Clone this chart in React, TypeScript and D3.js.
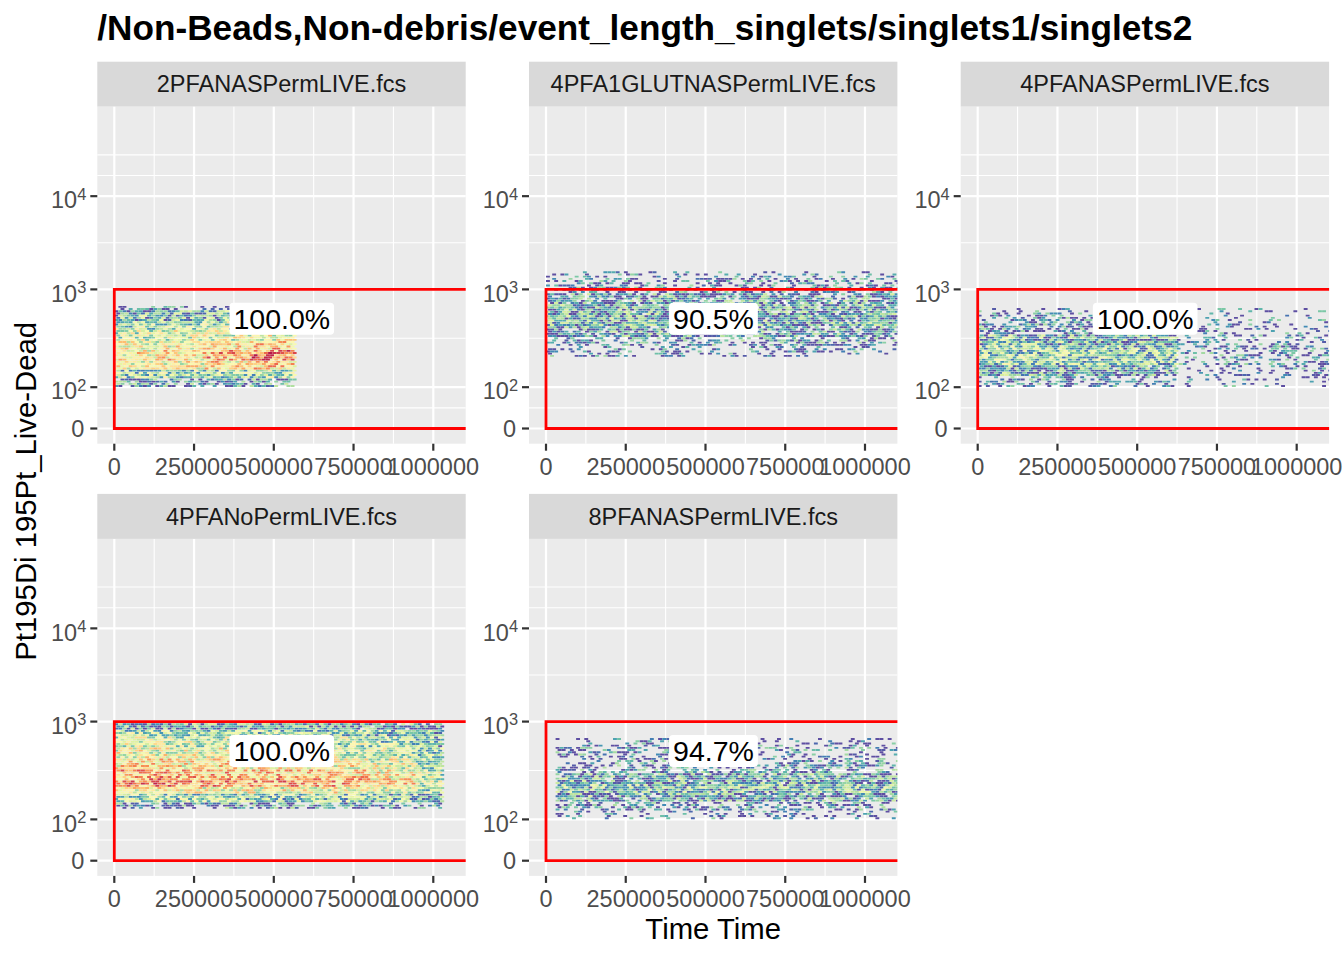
import React, { useMemo } from "react";
import * as d3 from "d3";

// ---------- text ----------
const plotTitle = "/Non-Beads,Non-debris/event_length_singlets/singlets1/singlets2";
const xAxisTitle = "Time Time";
const yAxisTitle = "Pt195Di 195Pt_Live-Dead";
const panelNames = [
  "2PFANASPermLIVE.fcs",
  "4PFA1GLUTNASPermLIVE.fcs",
  "4PFANASPermLIVE.fcs",
  "4PFANoPermLIVE.fcs",
  "8PFANASPermLIVE.fcs",
];
const gatePercents = ["100.0%", "90.5%", "100.0%", "100.0%", "94.7%"];

// ---------- axes ----------
const xTicks = [0, 250000, 500000, 750000, 1000000];
const xLimits = [-53300, 1101600];
const yBreaks = [0, 100, 1000, 10000];
const yBreakBase = ["0", "10", "10", "10"];
const yBreakExp = ["", "2", "3", "4"];
// biexponential-transformed position of each break (as drawn)
const yBreakUnits = [0, 0.4223, 1.4223, 2.3753];
const yLimitsUnits = [-0.1554, 3.29];

// ---------- gate ----------
const gateX = [0, Infinity];
const gateY = [0, 1000];
const gateLabelAt = [525000, 500];

// ---------- event density (rows bottom -> top, on the shared 0..1 fill scale) ----------
const p1X = [0, 140000, 280000, 420000, 566000];
const p1Y = [100, 125, 150, 190, 240, 300, 380, 480, 600, 690];
const p1D = [
  [0.12, 0.12, 0.11, 0.13],
  [0.3, 0.3, 0.32, 0.33],
  [0.46, 0.5, 0.55, 0.58],
  [0.52, 0.56, 0.66, 0.72],
  [0.46, 0.5, 0.56, 0.6],
  [0.4, 0.42, 0.44, 0.46],
  [0.32, 0.33, 0.35, 0.35],
  [0.2, 0.2, 0.21, 0.2],
  [0.07, 0.07, 0.07, 0.07],
];

const p2X = [0, 275000, 550000, 825000, 1110000];
const p2Y = [204, 260, 330, 420, 540, 700, 900, 1100, 1300, 1545];
const p2D = [
  [0.05, 0.05, 0.05, 0.05],
  [0.09, 0.09, 0.09, 0.09],
  [0.14, 0.14, 0.13, 0.13],
  [0.18, 0.17, 0.16, 0.16],
  [0.17, 0.16, 0.15, 0.15],
  [0.14, 0.13, 0.13, 0.13],
  [0.08, 0.08, 0.08, 0.08],
  [0.06, 0.06, 0.06, 0.06],
  [0.045, 0.045, 0.045, 0.045],
];

const p3X = [0, 150000, 300000, 450000, 626000, 800000, 950000, 1110000];
const p3Y = [100, 130, 165, 210, 270, 350, 460, 560, 660];
const p3D = [
  [0.08, 0.08, 0.08, 0.07, 0.03, 0.03, 0.03],
  [0.17, 0.16, 0.16, 0.14, 0.045, 0.045, 0.05],
  [0.3, 0.28, 0.27, 0.24, 0.06, 0.06, 0.065],
  [0.29, 0.27, 0.26, 0.24, 0.06, 0.06, 0.065],
  [0.21, 0.19, 0.18, 0.17, 0.05, 0.05, 0.055],
  [0.12, 0.11, 0.1, 0.1, 0.04, 0.04, 0.04],
  [0.08, 0.08, 0.07, 0.07, 0.035, 0.035, 0.035],
  [0.05, 0.05, 0.045, 0.045, 0.03, 0.03, 0.03],
];

const p4X = [0, 200000, 400000, 600000, 800000, 950000, 1031000];
const p4Y = [128, 150, 180, 220, 270, 330, 420, 540, 700, 820, 950];
const p4D = [
  [0.12, 0.12, 0.12, 0.12, 0.1, 0.08],
  [0.3, 0.3, 0.28, 0.28, 0.25, 0.18],
  [0.52, 0.5, 0.48, 0.48, 0.44, 0.32],
  [0.7, 0.68, 0.66, 0.64, 0.56, 0.4],
  [0.64, 0.62, 0.6, 0.58, 0.5, 0.38],
  [0.55, 0.54, 0.52, 0.5, 0.44, 0.33],
  [0.46, 0.45, 0.43, 0.41, 0.36, 0.27],
  [0.4, 0.38, 0.36, 0.35, 0.3, 0.23],
  [0.32, 0.3, 0.3, 0.28, 0.24, 0.19],
  [0.17, 0.17, 0.17, 0.16, 0.14, 0.11],
];

const p5X = [30000, 200000, 400000, 600000, 800000, 1110000];
const p5Y = [100, 125, 150, 185, 230, 290, 370, 470, 580, 673];
const p5D = [
  [0.04, 0.04, 0.04, 0.04, 0.04],
  [0.08, 0.08, 0.08, 0.08, 0.08],
  [0.15, 0.14, 0.15, 0.14, 0.14],
  [0.22, 0.2, 0.22, 0.2, 0.2],
  [0.16, 0.15, 0.15, 0.15, 0.15],
  [0.09, 0.09, 0.09, 0.09, 0.09],
  [0.07, 0.07, 0.07, 0.07, 0.07],
  [0.06, 0.06, 0.06, 0.06, 0.06],
  [0.04, 0.04, 0.04, 0.04, 0.04],
];

const cloudX = [p1X, p2X, p3X, p4X, p5X];
const cloudY = [p1Y, p2Y, p3Y, p4Y, p5Y];
const cloudD = [p1D, p2D, p3D, p4D, p5D];

// ---------- layout ----------
const W = 1344;
const H = 960;
const colLeft = [97.3, 529.0, 960.7];
const stripTop = [61.7, 493.9];
const stripH = 45;
const panelW = 368.4;
const panelH = 337;
const FONT = "'Liberation Sans', Arial, Helvetica, sans-serif";

function toUnits(v: number): number {
  const u = yBreakUnits;
  if (v <= 100) return (v / 100) * u[1];
  const lv = Math.log10(v);
  if (lv <= 3) return u[1] + (lv - 2) * (u[2] - u[1]);
  return u[2] + (lv - 3) * (u[3] - u[2]);
}
function fromUnits(x: number): number {
  const u = yBreakUnits;
  if (x <= u[1]) return (x / u[1]) * 100;
  if (x <= u[2]) return Math.pow(10, 2 + (x - u[1]) / (u[2] - u[1]));
  return Math.pow(10, 3 + (x - u[2]) / (u[3] - u[2]));
}

// ggplot2's regular_minor_breaks
function minorBreaks(major: number[], lim: number[]): number[] {
  let b = major.filter((v) => v >= lim[0] && v <= lim[1]);
  const bd = b[1] - b[0];
  if (lim[0] < b[0]) b = [b[0] - bd, ...b];
  if (lim[1] > b[b.length - 1]) b = [...b, b[b.length - 1] + bd];
  const mids: number[] = [];
  for (let i = 0; i < b.length - 1; i++) mids.push((b[i] + b[i + 1]) / 2);
  return [...b, ...mids].filter(
    (v) => v >= lim[0] && v <= lim[1] && !major.some((m) => Math.abs(m - v) < 1e-9)
  );
}

// deterministic texture hash for the dithered density rendering
function texture(i: number, j: number, s: number): number {
  let h = (Math.imul(i, 374761393) + Math.imul(j, 668265263) + Math.imul(s, 1274126177)) | 0;
  h = Math.imul(h ^ (h >>> 13), 1274126177);
  h ^= h >>> 16;
  h = Math.imul(h ^ (h >>> 15), 2246822519);
  h ^= h >>> 13;
  return (h >>> 0) / 4294967296;
}

const NB = 48;
const colorOf = (t: number) => d3.interpolateSpectral(1 - t);

function buildCloud(
  seed: number,
  xE: number[],
  yE: number[],
  dens: number[][],
  xs: d3.ScaleLinear<number, number>,
  yu: d3.ScaleLinear<number, number>
): { color: string; d: string }[] {
  const cw = 4.1;
  const ch = 2.2;
  const rw = 3.9;
  const rh = 1.9;
  const buckets: string[] = new Array(NB + 1).fill("");
  const xp0 = Math.max(0, xs(xE[0]));
  const xp1 = Math.min(panelW + 2, xs(xE[xE.length - 1]));
  const yBot = yu(toUnits(yE[0]));
  const yTop = yu(toUnits(yE[yE.length - 1]));
  for (let j = 0; ; j++) {
    const cy = yBot - (j + 0.5) * ch;
    if (cy < yTop) break;
    const off = (j % 2) * (cw / 2);
    for (let i = 0; ; i++) {
      const cx = xp0 + off + i * cw + rw / 2;
      if (cx > xp1) break;
      const dx = xs.invert(cx);
      const dy = fromUnits(yu.invert(cy));
      const c = d3.bisectRight(xE, dx) - 1;
      const r = d3.bisectRight(yE, dy) - 1;
      if (c < 0 || c >= dens[0].length || r < 0 || r >= dens.length) continue;
      const dv = dens[r][c];
      const occ = Math.min(1, dv * 6);
      if (texture(i, j, seed) >= occ) continue;
      let t = dv + (texture(i, j, seed + 101) - 0.5) * 0.48;
      t = Math.max(0, Math.min(0.95, t));
      const k = Math.round(t * NB);
      buckets[k] += `M${(cx - rw / 2).toFixed(1)},${(cy - rh / 2).toFixed(1)}h${rw}v${rh}h${-rw}z`;
    }
  }
  return buckets
    .map((d, k) => ({ color: colorOf(k / NB), d }))
    .filter((b) => b.d.length > 0);
}

function labelWidth(s: string, fs: number): number {
  let w = 0;
  for (const ch of s) {
    if (ch === ".") w += 0.278;
    else if (ch === "%") w += 0.889;
    else w += 0.556;
  }
  return w * fs;
}

export default function App() {
  const xs = useMemo(() => d3.scaleLinear().domain(xLimits).range([0, panelW]), []);
  const yu = useMemo(() => d3.scaleLinear().domain(yLimitsUnits).range([panelH, 0]), []);
  const yPx = (v: number) => yu(toUnits(v));
  const xMinor = minorBreaks(xTicks, xLimits);
  const yMinorU = minorBreaks(yBreakUnits, yLimitsUnits);

  const clouds = useMemo(
    () => panelNames.map((_, i) => buildCloud(i * 7 + 3, cloudX[i], cloudY[i], cloudD[i], xs, yu)),
    [xs, yu]
  );

  const labelFs = 28.5;
  const gridMajor = 2.2;
  const gridMinor = 1.1;

  return (
    <svg
      width={W}
      height={H}
      viewBox={`0 0 ${W} ${H}`}
      style={{ position: "absolute", left: 0, top: 0, background: "#fff" }}
      fontFamily={FONT}
    >
      <rect x={0} y={0} width={W} height={H} fill="#ffffff" />
      <text x={colLeft[0]} y={40} fontSize={35.2} fontWeight="bold" fill="#000">
        {plotTitle}
      </text>

      {panelNames.map((name, i) => {
        const col = i % 3;
        const row = Math.floor(i / 3);
        const px = colLeft[col];
        const sy = stripTop[row];
        const py = sy + stripH;
        const clipId = `clip${i}`;
        const gx0 = xs(gateX[0]);
        const gx1 = gateX[1] === Infinity ? panelW + 10 : xs(gateX[1]);
        const gy0 = yPx(gateY[0]);
        const gy1 = yPx(gateY[1]);
        const lw = labelWidth(gatePercents[i], labelFs) + 8;
        const lh = 32;
        const lx = xs(gateLabelAt[0]);
        const ly = yPx(gateLabelAt[1]);
        return (
          <g key={name}>
            <rect x={px} y={sy} width={panelW} height={stripH} fill="#D9D9D9" />
            <text
              x={px + panelW / 2}
              y={sy + stripH / 2}
              dy="0.35em"
              textAnchor="middle"
              fontSize={23.5}
              fill="#1A1A1A"
            >
              {name}
            </text>
            <g transform={`translate(${px},${py})`}>
              <defs>
                <clipPath id={clipId}>
                  <rect x={0} y={0} width={panelW} height={panelH} />
                </clipPath>
              </defs>
              <rect x={0} y={0} width={panelW} height={panelH} fill="#EBEBEB" />
              {xMinor.map((v) => (
                <line key={`xm${v}`} x1={xs(v)} x2={xs(v)} y1={0} y2={panelH} stroke="#fff" strokeWidth={gridMinor} />
              ))}
              {yMinorU.map((u) => (
                <line key={`ym${u}`} x1={0} x2={panelW} y1={yu(u)} y2={yu(u)} stroke="#fff" strokeWidth={gridMinor} />
              ))}
              {xTicks.map((v) => (
                <line key={`xM${v}`} x1={xs(v)} x2={xs(v)} y1={0} y2={panelH} stroke="#fff" strokeWidth={gridMajor} />
              ))}
              {yBreaks.map((v) => (
                <line key={`yM${v}`} x1={0} x2={panelW} y1={yPx(v)} y2={yPx(v)} stroke="#fff" strokeWidth={gridMajor} />
              ))}
              <g clipPath={`url(#${clipId})`}>
                {clouds[i].map((b) => (
                  <path key={b.color} d={b.d} fill={b.color} />
                ))}
                <path
                  d={`M${gx1},${gy1}L${gx0},${gy1}L${gx0},${gy0}L${gx1},${gy0}`}
                  fill="none"
                  stroke="#FF0000"
                  strokeWidth={2.8}
                />
              </g>
              <rect
                x={lx - lw / 2}
                y={ly - lh / 2}
                width={lw}
                height={lh}
                rx={4}
                ry={4}
                fill="#fff"
              />
              <text x={lx} y={ly} dy="0.36em" textAnchor="middle" fontSize={labelFs} fill="#000">
                {gatePercents[i]}
              </text>
              {xTicks.map((v) => (
                <g key={`xt${v}`}>
                  <line x1={xs(v)} x2={xs(v)} y1={panelH} y2={panelH + 7} stroke="#333333" strokeWidth={2.2} />
                  <text x={xs(v)} y={panelH + 31} textAnchor="middle" fontSize={23.5} fill="#4D4D4D">
                    {String(v)}
                  </text>
                </g>
              ))}
              {yBreaks.map((v, k) => (
                <g key={`yt${v}`}>
                  <line x1={-7} x2={0} y1={yPx(v)} y2={yPx(v)} stroke="#333333" strokeWidth={2.2} />
                  {yBreakExp[k] === "" ? (
                    <text x={-13} y={yPx(v)} dy="0.36em" textAnchor="end" fontSize={23.5} fill="#4D4D4D">
                      {yBreakBase[k]}
                    </text>
                  ) : (
                    <text x={-11} y={yPx(v) + 12.3} textAnchor="end" fontSize={23.5} fill="#4D4D4D">
                      {yBreakBase[k]}
                      <tspan fontSize={16.4} dy={-8.5}>
                        {yBreakExp[k]}
                      </tspan>
                    </text>
                  )}
                </g>
              ))}
            </g>
          </g>
        );
      })}

      <text
        x={(colLeft[0] + colLeft[2] + panelW) / 2}
        y={939}
        textAnchor="middle"
        fontSize={29.3}
        fill="#000"
      >
        {xAxisTitle}
      </text>
      <text
        transform={`translate(36,${(stripTop[0] + stripH + stripTop[1] + stripH + panelH) / 2}) rotate(-90)`}
        textAnchor="middle"
        fontSize={29.3}
        fill="#000"
      >
        {yAxisTitle}
      </text>
    </svg>
  );
}
